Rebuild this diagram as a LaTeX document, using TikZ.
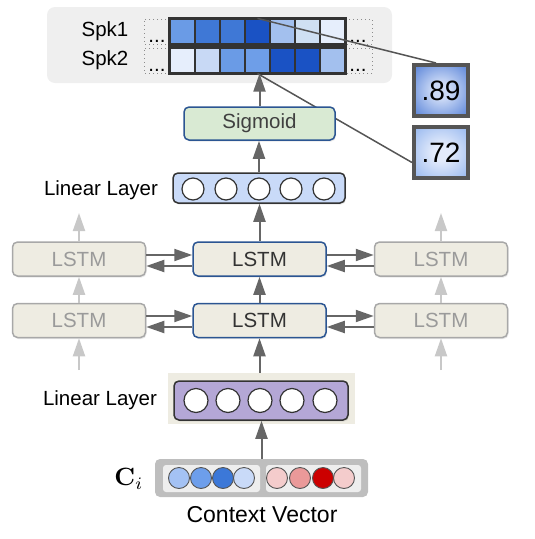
\documentclass[tikz,border=0pt]{standalone}
\usepackage[no-math]{fontspec}
\usepackage{graphicx}
\setmainfont{Liberation Sans}
\usetikzlibrary{arrows.meta,shadows,calc}
\definecolor{panel}{HTML}{EFEFEF}
\definecolor{beige}{HTML}{EEECE2}
\definecolor{navy}{HTML}{2B5592}
\definecolor{arrc}{HTML}{666666}
\definecolor{garr}{HTML}{C8C8C8}
\definecolor{sidebd}{HTML}{A8A8A8}
\definecolor{sidetx}{HTML}{9A9A9A}
\definecolor{sigfill}{HTML}{D9EAD3}
\definecolor{linA}{HTML}{C9DAF8}
\definecolor{linB}{HTML}{B4A7D6}
\definecolor{dk}{HTML}{333333}
\definecolor{conn}{HTML}{555555}
\definecolor{ctxgray}{HTML}{BEBEBE}
\definecolor{ctxin}{HTML}{EEEEEE}
\definecolor{bA}{HTML}{6A9BE6}
\definecolor{bB}{HTML}{3F78D6}
\definecolor{bC}{HTML}{1A52C4}
\definecolor{bD}{HTML}{A3C0EE}
\definecolor{bE}{HTML}{CFE0F3}
\definecolor{bF}{HTML}{E6EEFC}
\definecolor{bG}{HTML}{C8D9F5}
\definecolor{bH}{HTML}{6E9EE8}
\definecolor{cbA}{HTML}{A4C2F4}
\definecolor{cbB}{HTML}{6D9EEB}
\definecolor{cbC}{HTML}{3C78D8}
\definecolor{cbD}{HTML}{C9DAF8}
\definecolor{crA}{HTML}{F4CCCC}
\definecolor{crB}{HTML}{EA9999}
\definecolor{crC}{HTML}{CC0000}
\definecolor{vinA}{HTML}{CCDAF6}
\definecolor{voutA}{HTML}{2A60CC}
\definecolor{vinB}{HTML}{E3EBFB}
\definecolor{voutB}{HTML}{78A3EA}
\pgfdeclareradialshading{shaA}{\pgfpoint{0bp}{0bp}}{color(0bp)=(vinA); color(8bp)=(vinA); color(46bp)=(voutA); color(72bp)=(voutA)}
\pgfdeclareradialshading{shaB}{\pgfpoint{0bp}{0bp}}{color(0bp)=(vinB); color(8bp)=(vinB); color(46bp)=(voutB); color(72bp)=(voutB)}
\begin{document}
\begin{tikzpicture}[x=1pt,y=-1pt,
  txt/.style={font=\fontsize{20.5}{24}\selectfont, inner sep=0pt},
  shd/.style={drop shadow={opacity=0.18, shadow xshift=1pt, shadow yshift=-1.5pt}},
  arr/.style={draw=arrc, line width=2pt, -{Triangle[length=18pt,width=12pt]}},
  garrow/.style={draw=garr, line width=2pt, -{Triangle[length=18pt,width=12pt]}},
  lstmside/.style={txt, shd, draw=sidebd, line width=1.5pt, fill=beige, rounded corners=5pt, minimum width=133pt, minimum height=34pt, text=sidetx},
  lstmmid/.style={txt, shd, draw=navy, line width=1.5pt, fill=beige, rounded corners=5pt, minimum width=133pt, minimum height=34pt, text=dk},
  cell/.style={draw=dk, line width=1.2pt, minimum width=25pt, minimum height=25pt, inner sep=0pt},
  neuron/.style={circle, draw=dk, line width=1.2pt, fill=white, inner sep=0pt},
  cdot/.style={circle, draw=conn, line width=0.9pt, minimum size=21pt, inner sep=0pt},
  valbox/.style={shd, draw=conn, line width=4pt, minimum width=54pt, minimum height=51pt, inner sep=0pt, font=\fontsize{28}{32}\selectfont},
  connl/.style={draw=conn, line width=1.5pt},
  dotbox/.style={draw=black!45, line width=1pt, dash pattern=on 1pt off 3pt}
]
\useasboundingbox (0,0) rectangle (535,539);

% top panel
\node[fill=panel, rounded corners=8pt, minimum width=345pt, minimum height=76pt, inner sep=0pt] (panel) at (219.5,45) {};
\node[txt] (spk1) at (105,31.5) {Spk1};
\node[txt] (spk2) at (105,60.5) {Spk2};
\draw[dotbox] (170,19) -- (144,19) -- (144,44) -- (170,44);
\draw[dotbox] (170,48) -- (144,48) -- (144,73) -- (170,73);
\draw[dotbox] (345,19) -- (372,19) -- (372,44) -- (345,44);
\draw[dotbox] (345,48) -- (372,48) -- (372,73) -- (345,73);
\node[txt, anchor=base] (dl1) at (157,42) {...};
\node[txt, anchor=base] (dl2) at (157,71) {...};
\node[txt, anchor=base] (dr1) at (358,42) {...};
\node[txt, anchor=base] (dr2) at (358,71) {...};
\foreach \c [count=\k] in {bA,bB,bB,bC,bD,bE,bF}
  \node[cell, fill=\c] (c1-\k) at (157.5+25*\k,31.5) {};
\foreach \c [count=\k] in {bF,bG,bA,bH,bC,bC,bD}
  \node[cell, fill=\c] (c2-\k) at (157.5+25*\k,60.5) {};
\draw[dk, line width=2pt] (c1-1.north west) rectangle (c1-7.south east);
\draw[dk, line width=2pt] (c2-1.north west) rectangle (c2-7.south east);

% value boxes
\node[valbox, shade, shading=shaA] (v89) at (441,90.5) {.89};
\node[valbox, shade, shading=shaB] (v72) at (441,152.5) {.72};
\draw[connl] (c1-4.north) -- ([xshift=-5pt]v89.north);
\draw[connl] (c2-4.south) -- ([yshift=-10pt]v72.west);

% sigmoid
\node[txt, shd, draw=navy, line width=1.5pt, fill=sigfill, rounded corners=5pt, minimum width=151pt, minimum height=33pt, text=black!75] (sig) at (259.5,123.5) {Sigmoid};
\draw[arr] (sig.north) -- (sig.north |- c2-4.south);

% top linear layer
\node[shd, draw=dk, line width=1.5pt, fill=linA, rounded corners=5pt, minimum width=172pt, minimum height=30pt, inner sep=0pt] (lt) at (259,188) {};
\foreach \x [count=\k] in {193,226,259,291,324}
  \node[neuron, minimum size=22pt] (lt\k) at (\x,189) {};
\node[txt] (ltl) at (101,190) {Linear Layer};
\draw[arr] (lt.north) -- (lt.north |- sig.south);

% LSTMs
\node[lstmside] (l1) at (79,259) {LSTM};
\node[lstmmid]  (m1) at (259.5,259) {LSTM};
\node[lstmside] (r1) at (441,259) {LSTM};
\node[lstmside] (l2) at (79,320.5) {LSTM};
\node[lstmmid]  (m2) at (259.5,320.5) {LSTM};
\node[lstmside] (r2) at (441,320.5) {LSTM};

\draw[arr] (l1.east |- 0,255) -- (m1.west |- 0,255);
\draw[arr] (m1.west |- 0,266) -- (l1.east |- 0,266);
\draw[arr] (m1.east |- 0,255) -- (r1.west |- 0,255);
\draw[arr] (r1.west |- 0,266) -- (m1.east |- 0,266);
\draw[arr] (l2.east |- 0,316) -- (m2.west |- 0,316);
\draw[arr] (m2.west |- 0,327) -- (l2.east |- 0,327);
\draw[arr] (m2.east |- 0,316) -- (r2.west |- 0,316);
\draw[arr] (r2.west |- 0,327) -- (m2.east |- 0,327);

\draw[arr] (m2.north) -- (m1.south);
\draw[arr] (m1.north) -- (m1.north |- lt.south);

\coordinate (ltop) at (79,213);
\coordinate (rtop) at (441,213);
\coordinate (lbot) at (79,370);
\coordinate (rbot) at (441,370);
\draw[garrow] (l1.north) -- (ltop);
\draw[garrow] (r1.north) -- (rtop);
\draw[garrow] (l2.north) -- (l1.south);
\draw[garrow] (r2.north) -- (r1.south);
\draw[garrow] (lbot) -- (l2.south);
\draw[garrow] (rbot) -- (r2.south);

% bottom linear layer
\node[fill=beige, minimum width=187pt, minimum height=51pt, inner sep=0pt] (lbg) at (261.5,398.5) {};
\draw[arr] (m2.south |- lbg.north) -- (m2.south);
\node[shd, draw=dk, line width=1.5pt, fill=linB, rounded corners=5pt, minimum width=174pt, minimum height=39pt, inner sep=0pt] (lb) at (261,400.5) {};
\foreach \x [count=\k] in {196,228,260,292,325}
  \node[neuron, minimum size=24pt] (lb\k) at (\x,400.5) {};
\node[txt] (lbl) at (100,400) {Linear Layer};

% context vector
\node[fill=ctxgray, rounded corners=5pt, minimum width=213pt, minimum height=38pt, inner sep=0pt] (cv) at (261.5,478) {};
\node[fill=ctxin, rounded corners=3pt, minimum width=97pt, minimum height=27pt, inner sep=0pt] (ci1) at (211.5,478.5) {};
\node[fill=ctxin, rounded corners=3pt, minimum width=95pt, minimum height=27pt, inner sep=0pt] (ci2) at (313.5,478.5) {};
\foreach \x/\c [count=\k] in {179/cbA,201/cbB,223/cbC,244/cbD}
  \node[cdot, fill=\c] (cb\k) at (\x,478) {};
\foreach \x/\c [count=\k] in {277/crA,300/crB,323/crC,344/crA}
  \node[cdot, fill=\c] (cr\k) at (\x,478) {};
\draw[arr] (cv.north) -- (cv.north |- lb.south);
\node[inner sep=0pt] (cil) at (129,479) {\scalebox{2.5}{$\mathbf{C}_i$}};
\node[inner sep=0pt, font=\fontsize{23}{27}\selectfont] (cvl) at (262,515) {Context Vector};
\end{tikzpicture}
\end{document}
